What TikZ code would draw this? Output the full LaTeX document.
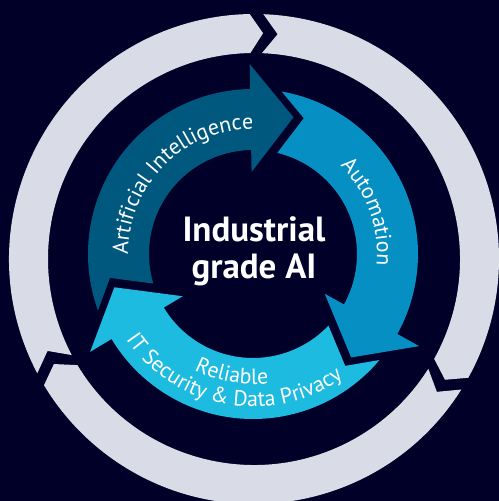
\documentclass[tikz,border=0pt]{standalone}
\usepackage{fontspec}
\setmainfont{PT Sans}
\usetikzlibrary{decorations.text}
\definecolor{deepblue}{HTML}{000028}
\definecolor{ringgray}{HTML}{D9DCE6}
\definecolor{aiblue}{HTML}{00587F}
\definecolor{autoblue}{HTML}{068FC3}
\definecolor{relblue}{HTML}{1DBBE0}

\begin{document}
\begin{tikzpicture}[x=0.02cm,y=0.02cm,
                    ringseg/.style={fill=ringgray},
                    arctext/.style={decorate,decoration={text along path,
                      text align=center,text color=white}}]
\def \arcfont {\fontsize{12.5}{14}\selectfont}
\fill[deepblue] (-253,-247) rectangle (246,254);
\useasboundingbox (-253,-247) rectangle (246,254);

% outer ring, three pieces
\begin{scope}[shift={(1,-5)}]
\fill[ringseg] (87.8:245) arc[start angle=87.8, end angle=-29, radius=245] -- (-32.3:226)
  -- (-29:206) arc[start angle=-29, end angle=87.8, radius=206] -- (84:226) -- cycle;
\fill[ringseg] (-32.2:245) arc[start angle=-32.2, end angle=-149, radius=245] -- (-152.3:226)
  -- (-149:206) arc[start angle=-149, end angle=-32.2, radius=206] -- (-36:226) -- cycle;
\fill[ringseg] (207.8:245) arc[start angle=207.8, end angle=91, radius=245] -- (87.7:226)
  -- (91:206) arc[start angle=91, end angle=207.8, radius=206] -- (204:226) -- cycle;
\end{scope}

% inner arrows
\fill[aiblue] (200:165) arc[start angle=200, end angle=91, radius=165] -- (91:190)
  -- (73.5:142.6) -- (91:82) -- (91:104) arc[start angle=91, end angle=196.5, radius=104]
  -- (189.5:145) -- cycle;
\fill[autoblue] (80:165) arc[start angle=80, end angle=-29, radius=165] -- (-29:190)
  -- (-46.5:142.6) -- (-29:82) -- (-29:104) arc[start angle=-29, end angle=76.5, radius=104]
  -- (69.5:145) -- cycle;
\fill[relblue] (320:165) arc[start angle=320, end angle=211, radius=165] -- (211:190)
  -- (193.5:142.6) -- (211:82) -- (211:104) arc[start angle=211, end angle=316.5, radius=104]
  -- (309.5:145) -- cycle;

% labels on the arrows
\path[arctext,decoration={text={|\arcfont|Artificial Intelligence}}]
  (190:125) arc[start angle=190, end angle=80, radius=125];
\path[arctext,decoration={text={|\arcfont|Automation}}]
  (70:124) arc[start angle=70, end angle=-30, radius=124];
\path[arctext,decoration={text={|\arcfont|Reliable}}]
  (220:130) arc[start angle=220, end angle=300, radius=130];
\path[arctext,decoration={text={|\arcfont|IT Security {\&} Data Privacy}}]
  (205:153) arc[start angle=205, end angle=315, radius=153];

\node[text=white, font=\bfseries\fontsize{19.9}{21}\selectfont, align=center]
  (title) at (1,3) {Industrial\\grade AI};
\end{tikzpicture}
\end{document}
